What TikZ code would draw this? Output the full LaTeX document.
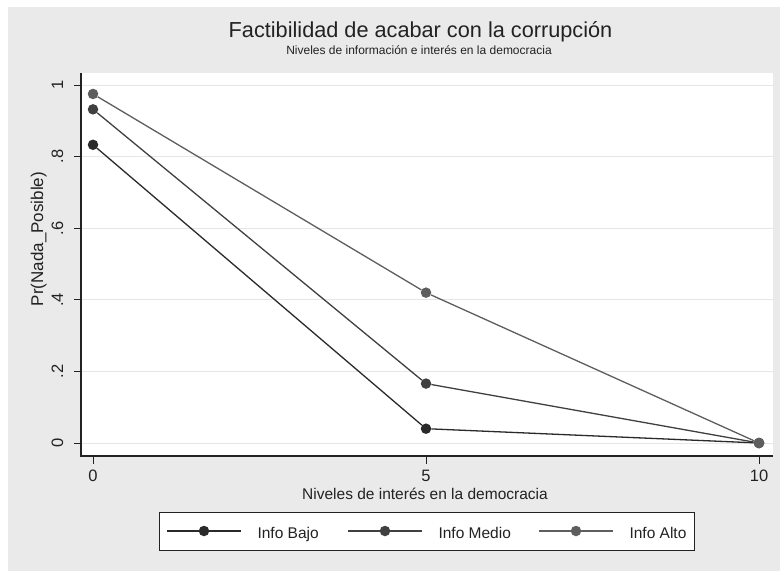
\documentclass[tikz,border=0pt]{standalone}
\usepackage{fontspec}
\setmainfont{Liberation Sans}
\usepackage{xcolor}
\definecolor{bggray}{HTML}{EAEAEA}
\definecolor{gridgray}{HTML}{E6E6E6}
\definecolor{axisgray}{HTML}{222222}
\definecolor{bajocol}{HTML}{2A2A2A}
\definecolor{mediocol}{HTML}{404040}
\definecolor{altocol}{HTML}{5E5E5E}

\tikzset{
    dot/.style={circle, inner sep=0pt, minimum size=10.5pt},
    serie/.style={line width=1.3pt},
    ticklab/.style={font=\fontsize{16.5}{18}\selectfont, text=axisgray},
    axislab/.style={font=\fontsize{15.5}{18}\selectfont, text=axisgray},
    leglab/.style={font=\fontsize{15.5}{18}\selectfont, text=axisgray, anchor=base west}
}

\begin{document}
\begin{tikzpicture}[x=1pt, y=-1pt]
    \useasboundingbox (0,0) rectangle (780,571);
    \fill[white] (0,0) rectangle (780,571);
    \fill[bggray] (8,7) rectangle (780,571);
    \fill[white] (81,73) rectangle (773,456);

    \node[anchor=base, font=\fontsize{21.7}{24}\selectfont, text=axisgray] (title) at (420.5,37) {Factibilidad de acabar con la corrupción};
    \node[anchor=base, font=\fontsize{12}{14}\selectfont, text=axisgray] (subtitle) at (419,54) {Niveles de información e interés en la democracia};

    \begin{scope}[shift={(93,443)}, x=66.6pt, y=358pt]
        \foreach \v/\t in {0/0, 0.2/.2, 0.4/.4, 0.6/.6, 0.8/.8, 1/1} {
            \draw[gridgray, line width=1pt] (-0.18,\v) -- (10.21,\v);
            \draw[axisgray, line width=1pt] (-0.18,\v) -- ++(-7pt,0);
            \node[ticklab, rotate=90, anchor=base] (ylab\t) at ([xshift=-18pt]-0.18,\v) {\t};
        }
        \foreach \u in {0,5,10} {
            \draw[axisgray, line width=1pt] (\u,-0.0363) -- ++(0,-8pt);
            \node[ticklab, anchor=base] (xlab\u) at ([yshift=-25pt]\u,-0.0363) {\u};
        }
        \draw[axisgray, line width=1.2pt] (-0.18,1.034) -- (-0.18,-0.0363) -- (10.21,-0.0363);

        \node[dot, fill=bajocol] (bajo0) at (0,0.833) {};
        \node[dot, fill=bajocol] (bajo5) at (5,0.040) {};
        \node[dot, fill=bajocol] (bajo10) at (10,0) {};
        \draw[serie, bajocol] (bajo0) -- (bajo5) -- (bajo10);

        \node[dot, fill=mediocol] (medio0) at (0,0.932) {};
        \node[dot, fill=mediocol] (medio5) at (5,0.166) {};
        \node[dot, fill=mediocol] (medio10) at (10,0) {};
        \draw[serie, mediocol] (medio0) -- (medio5) -- (medio10);

        \node[dot, fill=altocol] (alto0) at (0,0.975) {};
        \node[dot, fill=altocol] (alto5) at (5,0.420) {};
        \node[dot, fill=altocol] (alto10) at (10,0) {};
        \draw[serie, altocol] (alto0) -- (alto5) -- (alto10);
    \end{scope}

    \node[axislab, anchor=base] (xtitle) at (425,499) {Niveles de interés en la democracia};
    \node[axislab, font=\fontsize{17}{19}\selectfont, rotate=90, anchor=base] (ytitle) at (43,239) {Pr(Nada\_Posible)};

    \draw[axisgray, line width=1pt, fill=white] (159,512) rectangle (694,550);
    \foreach \n/\c/\a/\t in {bajo/bajocol/167/Info Bajo, medio/mediocol/348/Info Medio, alto/altocol/539/Info Alto} {
        \coordinate (l\n a) at (\a,531);
        \coordinate (l\n b) at (\a+74,531);
        \draw[\c, line width=1.2pt] (l\n a) -- (l\n b);
        \node[dot, fill=\c] (l\n) at (\a+37,531) {};
        \node[leglab] (t\n) at (\a+87,538) {\t};
    }
\end{tikzpicture}
\end{document}
